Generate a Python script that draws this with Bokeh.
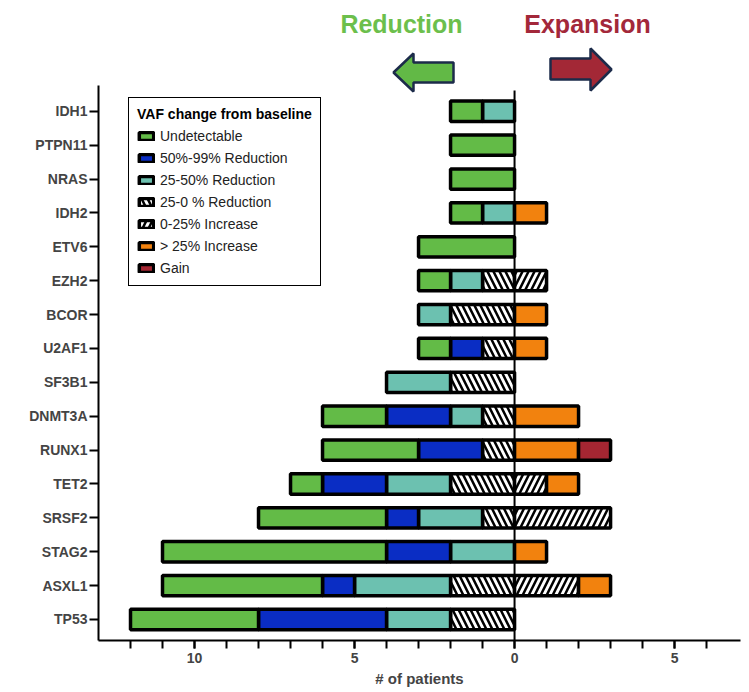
import numpy as np
from bokeh.plotting import figure
from bokeh.models import (ColumnDataSource, FixedTicker, Legend, LegendItem,
                          Label, PolyAnnotation)
from bokeh.embed import file_html
from bokeh.resources import INLINE

# ---------------- data ----------------
genes = ["IDH1", "PTPN11", "NRAS", "IDH2", "ETV6", "EZH2", "BCOR", "U2AF1",
         "SF3B1", "DNMT3A", "RUNX1", "TET2", "SRSF2", "STAG2", "ASXL1", "TP53"]
undetectable = [1, 2, 2, 1, 3, 1, 0, 1, 0, 2, 3, 1, 4, 7, 5, 4]
red_50_99    = [0, 0, 0, 0, 0, 0, 0, 1, 0, 2, 2, 2, 1, 2, 1, 4]
red_25_50    = [1, 0, 0, 1, 0, 1, 1, 0, 2, 1, 0, 2, 2, 2, 3, 2]
red_25_0     = [0, 0, 0, 0, 0, 1, 2, 1, 2, 1, 1, 2, 1, 0, 2, 2]
inc_0_25     = [0, 0, 0, 0, 0, 1, 0, 0, 0, 0, 0, 1, 3, 0, 2, 0]
inc_over_25  = [0, 0, 0, 1, 0, 0, 1, 1, 0, 2, 2, 1, 0, 1, 1, 0]
gain         = [0, 0, 0, 0, 0, 0, 0, 0, 0, 0, 1, 0, 0, 0, 0, 0]

legend_labels = ["Undetectable", "50%-99% Reduction", "25-50% Reduction",
                 "25-0 % Reduction", "0-25% Increase", "> 25% Increase", "Gain"]
x_ticks = [-10, -5, 0, 5]
x_tick_labels = ["10", "5", "0", "5"]

# ---------------- layout helpers ----------------
W, H = 749, 692
FL, FR, FT, FB = 98, 740, 0, 640          # frame edges in pixels
X0, X1 = -13.0, 7.06
Y0, Y1 = -0.62, 18.27

def xd(px):
    return X0 + (px - FL) / (FR - FL) * (X1 - X0)

def yd(py):
    return Y0 + (FB - py) / (FB - FT) * (Y1 - Y0)

n = len(genes)
ypos = np.array([n - 1 - i for i in range(n)], dtype=float)

GREEN = "#63bb47"
BLUE = "#0a2dc4"
TEAL = "#6cc1b0"
ORANGE = "#f2820e"
RED = "#a52632"
FONT = "Liberation Sans"

p = figure(width=W, height=H, output_backend="svg", toolbar_location=None,
           x_range=(X0, X1), y_range=(Y0, Y1),
           min_border_left=FL, min_border_right=W - FR,
           min_border_top=FT, min_border_bottom=H - FB)
p.outline_line_color = None
p.xgrid.visible = False
p.ygrid.visible = False
p.background_fill_color = "white"

# reduction side: stacked from 0 to the left
neg_series = [
    ("25-0 % Reduction", red_25_0, "white", "\\"),
    ("25-50% Reduction", red_25_50, TEAL, None),
    ("50%-99% Reduction", red_50_99, BLUE, None),
    ("Undetectable", undetectable, GREEN, None),
]
pos_series = [
    ("0-25% Increase", inc_0_25, "white", "/"),
    ("> 25% Increase", inc_over_25, ORANGE, None),
    ("Gain", gain, RED, None),
]

renderers = {}

def add_side(series, sign):
    base = np.zeros(n)
    for name, vals, color, hatch in series:
        v = np.array(vals, dtype=float)
        a = base * sign
        b = (base + v) * sign
        mask = v > 0
        src = ColumnDataSource(dict(y=ypos[mask], left=np.minimum(a, b)[mask],
                                    right=np.maximum(a, b)[mask]))
        kw = dict(y="y", left="left", right="right", height=0.6, source=src,
                  fill_color=color, line_color="black", line_width=3.5)
        if hatch:
            kw.update(hatch_pattern=hatch, hatch_color="black",
                      hatch_weight=2.5, hatch_scale=12)
        renderers[name] = p.hbar(**kw)
        base = base + v

add_side(neg_series, -1)
add_side(pos_series, 1)

# zero line
p.segment(x0=[0], y0=[yd(FB)], x1=[0], y1=[yd(90)], line_color="black",
          line_width=2)

# axes
xa = p.xaxis[0]
xa.ticker = FixedTicker(ticks=x_ticks, minor_ticks=list(range(-12, 7)))
xa.major_label_overrides = {t: l for t, l in zip(x_ticks, x_tick_labels)}
xa.axis_label = "# of patients"
xa.axis_label_text_font = FONT
xa.axis_label_text_font_style = "bold"
xa.axis_label_text_font_size = "15px"
xa.axis_label_standoff = 4
xa.major_label_text_font = FONT
xa.major_label_text_font_style = "bold"
xa.major_label_text_font_size = "14px"
xa.major_label_standoff = 4
xa.axis_line_width = 2
xa.major_tick_out = 8
xa.major_tick_in = 0
xa.minor_tick_out = 8
xa.minor_tick_in = 0
xa.major_tick_line_width = 2
xa.minor_tick_line_width = 2

ya = p.yaxis[0]
ya.ticker = FixedTicker(ticks=list(ypos), minor_ticks=[])
ya.major_label_overrides = {int(y): g for y, g in zip(ypos, genes)}
ya.bounds = (Y0, yd(85))
ya.major_label_text_font = FONT
ya.major_label_text_font_style = "bold"
ya.major_label_text_font_size = "14px"
ya.major_label_standoff = 2
ya.axis_line_width = 2
ya.major_tick_out = 9
ya.major_tick_in = 0
ya.major_tick_line_width = 2

# legend
items = [LegendItem(label=lab, renderers=[renderers[lab]]) for lab in legend_labels]
legend = Legend(items=items, title="VAF change from baseline",
                location=(128 - FL, FB - 286),
                title_text_font=FONT, title_text_font_style="bold",
                title_text_font_size="14px", title_text_color="black",
                title_standoff=4,
                label_text_font=FONT, label_text_font_size="14px",
                label_text_color="#222222",
                glyph_width=18, glyph_height=10, label_height=19,
                spacing=3, padding=8, margin=0,
                border_line_color="black", border_line_width=1.5,
                border_line_alpha=1,
                background_fill_color="white", background_fill_alpha=1)
p.add_layout(legend)

# direction arrows and captions
green_arrow_x = [xd(v) for v in (393, 413, 413, 453, 453, 413, 413)]
green_arrow_y = [yd(v) for v in (72, 53, 62, 62, 82, 82, 91)]
red_arrow_x = [xd(v) for v in (611, 590, 590, 550, 550, 590, 590)]
red_arrow_y = [yd(v) for v in (69, 48, 58, 58, 79, 79, 90)]
p.add_layout(PolyAnnotation(xs=green_arrow_x, ys=green_arrow_y,
                            fill_color="#62b946", fill_alpha=1,
                            line_color="#1c2b4a", line_width=2.5, line_alpha=1))
p.add_layout(PolyAnnotation(xs=red_arrow_x, ys=red_arrow_y,
                            fill_color="#a32836", fill_alpha=1,
                            line_color="#1c2b4a", line_width=2.5, line_alpha=1))
p.add_layout(Label(x=xd(401), y=yd(23), text="Reduction", text_align="center",
                   text_baseline="middle", text_font=FONT, text_font_style="bold",
                   text_font_size="25px", text_color="#6cbf4c"))
p.add_layout(Label(x=xd(587), y=yd(23), text="Expansion", text_align="center",
                   text_baseline="middle", text_font=FONT, text_font_style="bold",
                   text_font_size="25px", text_color="#a3283a"))

open("out.html", "w").write(file_html(p, INLINE))
